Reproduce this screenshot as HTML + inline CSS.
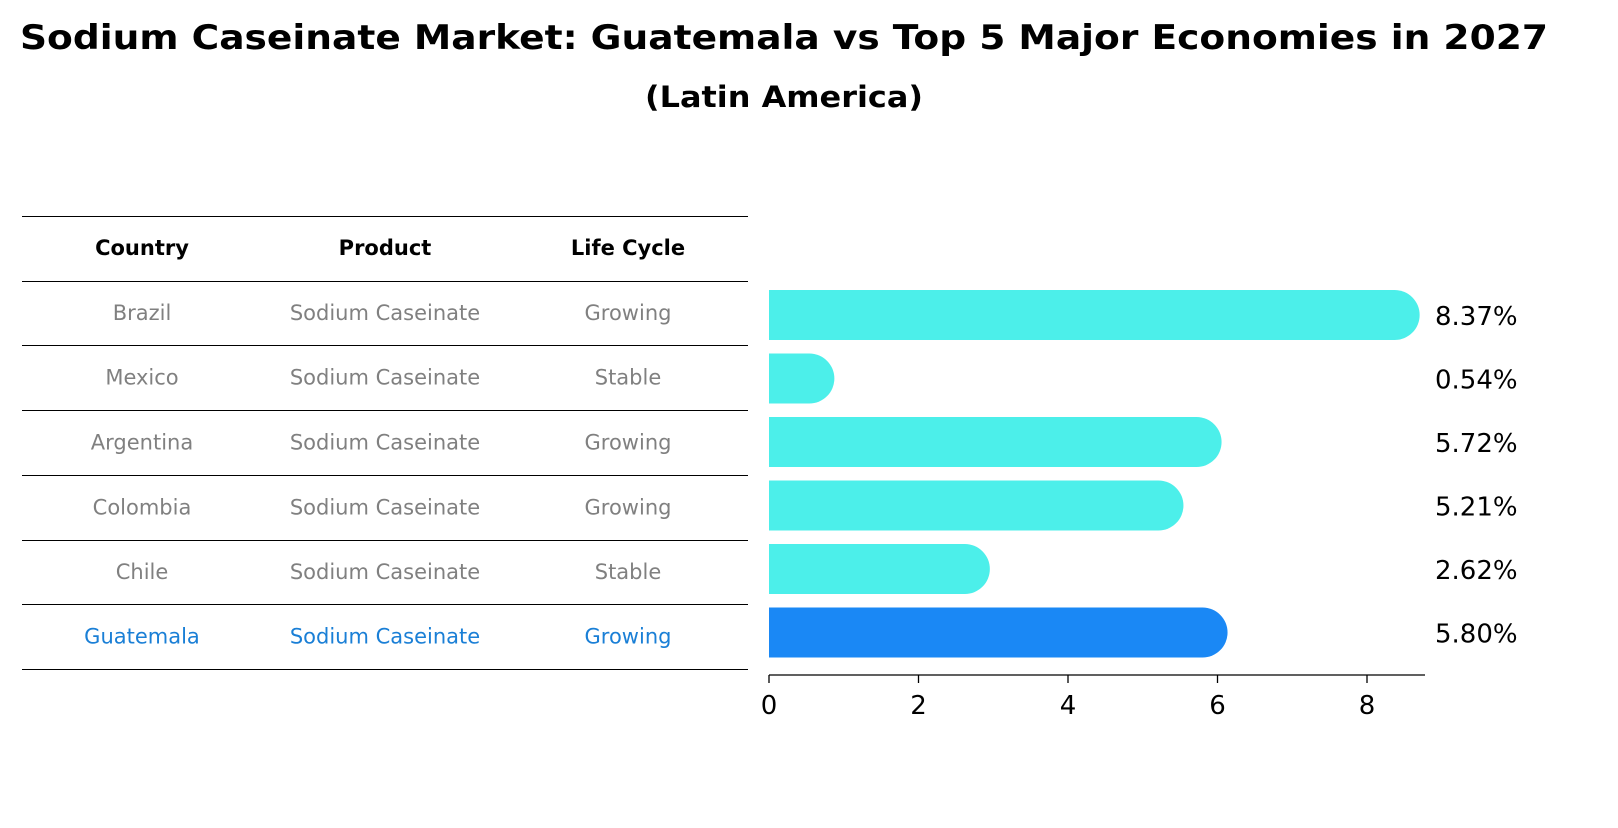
<!DOCTYPE html>
<html><head><meta charset="utf-8"><style>
body{margin:0;background:#fff;font-family:"Liberation Sans","DejaVu Sans",sans-serif}
</style></head><body>
<svg id="chart" width="1618" height="823" xmlns="http://www.w3.org/2000/svg" font-family="DejaVu Sans, Liberation Sans, sans-serif">
<text x="784" y="49" text-anchor="middle" font-size="34" font-weight="bold" textLength="1528" lengthAdjust="spacingAndGlyphs">Sodium Caseinate Market: Guatemala vs Top 5 Major Economies in 2027</text>
<text x="784" y="107" text-anchor="middle" font-size="29" font-weight="bold" textLength="278" lengthAdjust="spacingAndGlyphs">(Latin America)</text>
<g id="table"></g>
<g id="bars"></g>
<g id="axis"></g>
</svg>
<script>
const countries=["Brazil","Mexico","Argentina","Colombia","Chile","Guatemala"];
const products=["Sodium Caseinate","Sodium Caseinate","Sodium Caseinate","Sodium Caseinate","Sodium Caseinate","Sodium Caseinate"];
const lifeCycles=["Growing","Stable","Growing","Growing","Stable","Growing"];
const values=[8.37,0.54,5.72,5.21,2.62,5.80];
const valueLabels=["8.37%","0.54%","5.72%","5.21%","2.62%","5.80%"];
const ticks=[0,2,4,6,8];
const NS="http://www.w3.org/2000/svg";
function mk(t,a,p){const e=document.createElementNS(NS,t);for(const k in a)e.setAttribute(k,a[k]);p.appendChild(e);return e;}
const x=v=>769+v*74.75;
const rowY=i=>315+i*63.5;
const tbl=document.getElementById('table'),bars=document.getElementById('bars'),ax=document.getElementById('axis');
const lines=[216,281,345,410,475,540,604,669];
lines.forEach((ly,i)=>{const l=mk('line',{x1:22,x2:748,y1:ly+0.5,y2:ly+0.5,stroke:'#000','stroke-width':1},tbl);

});
const cols=[142,385,628];
["Country","Product","Life Cycle"].forEach((h,i)=>{const t=mk('text',{x:cols[i],y:255,'text-anchor':'middle','font-size':21,'font-weight':'bold'},tbl);t.textContent=h;

});
countries.forEach((c,i)=>{
 const cy=(lines[i+1]+lines[i+2])/2;
 const col=i===5?'#1a7fd6':'#808080';
 [c,products[i],lifeCycles[i]].forEach((s,j)=>{const t=mk('text',{x:cols[j],y:cy+7,'text-anchor':'middle','font-size':21,fill:col},tbl);t.textContent=s;
 
 });
 const by=rowY(i),fill=i===5?'#1a88f5':'#4cefea';
 const g=mk('g',{},bars);
 
 
 mk('rect',{x:x(0),y:by-25,width:x(values[i])-x(0),height:50,fill:fill},g);
 mk('circle',{cx:x(values[i]),cy:by,r:25,fill:fill},g);
 const t=mk('text',{x:1435,y:by+10,'font-size':26},bars);t.textContent=valueLabels[i];
 
 
});
mk('line',{x1:769,x2:1425,y1:675,y2:675,stroke:'#000','stroke-width':1.3},ax);
ticks.forEach(v=>{mk('line',{x1:x(v),x2:x(v),y1:675,y2:683,stroke:'#000','stroke-width':1.3},ax);
 const t=mk('text',{x:x(v),y:714,'text-anchor':'middle','font-size':26},ax);t.textContent=v;
 
 });
</script>
</body></html>
